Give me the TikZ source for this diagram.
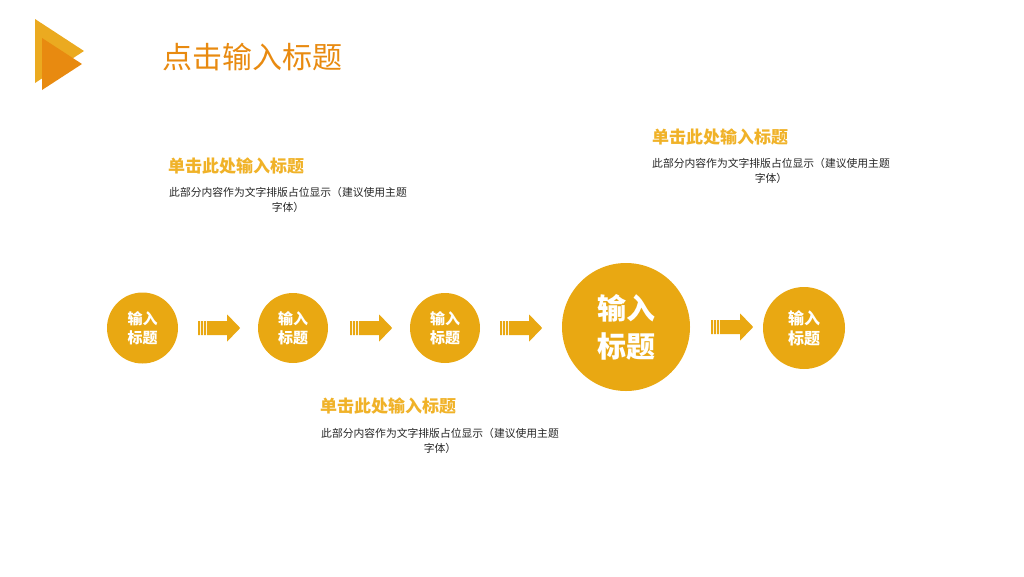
\documentclass[tikz,border=0pt]{standalone}
\usepackage{fontspec}
\setmainfont{Noto Sans CJK SC}
\usepackage{tikz}

\definecolor{gold}{RGB}{233,168,18}
\definecolor{logogold}{RGB}{235,170,32}
\definecolor{deeporange}{RGB}{232,138,16}
\definecolor{headgold}{RGB}{240,178,40}

\tikzset{
  ball/.style={circle,fill=gold,text=white,align=center,inner sep=0pt,minimum size=#1},
  smallfont/.style={font=\fontsize{15}{19}\selectfont\bfseries},
  bigfont/.style={font=\fontsize{29}{38}\selectfont\bfseries},
  heading/.style={anchor=west,inner sep=0pt,text=headgold,font=\fontsize{17}{20}\selectfont\bfseries},
  bodytext/.style={inner sep=0pt,align=center,text=black!85,font=\fontsize{10.8}{15}\selectfont}
}

% striped block arrow, tail at #1
\newcommand{\stripearrow}[1]{%
  \fill[gold] (#1) ++(0,-7) rectangle ++(2,14)
              (#1) ++(3,-7) rectangle ++(2,14)
              (#1) ++(6,-7) rectangle ++(2,14)
              (#1) ++(9,-7) -- ++(20,0) -- ++(0,-6.5) -- ++(13,13.5)
                   -- ++(-13,13.5) -- ++(0,-6.5) -- ++(-20,0) -- cycle;}

\begin{document}
\begin{tikzpicture}[x=1pt,y=-1pt]
\useasboundingbox (0,0) rectangle (1024,576);

    % logo and title
    \fill[logogold] (35,19) -- (84,51) -- (35,83) -- cycle;
    \fill[deeporange] (42,38) -- (82,64) -- (42,90) -- cycle;
    \node[anchor=west,inner sep=0pt,text=deeporange,font=\fontsize{30}{33}\selectfont] (title) at (162,57) {点击输入标题};

\begin{scope}[smallfont]
    \node[ball=71pt] (c1) at (142.5,328) {输入\\标题};
    \node[ball=70pt] (c2) at (293,328) {输入\\标题};
    \node[ball=70pt] (c3) at (445,328) {输入\\标题};
    \node[ball=82pt,font=\fontsize{16}{20}\selectfont\bfseries] (c5) at (804,328) {输入\\标题};
\end{scope}
    \node[ball=128pt,bigfont] (c4) at (626,327) {输入\\标题};

    \path (c1.east) ++(20,0) coordinate (a1);
    \path (c2.east) ++(22,0) coordinate (a2);
    \path (c3.east) ++(20,0) coordinate (a3);
    \path (c4.east) ++(21,0) coordinate (a4);
    \stripearrow{a1}
    \stripearrow{a2}
    \stripearrow{a3}
    \stripearrow{a4}

    % text blocks
    \node[heading] (h1) at (168,166) {单击此处输入标题};
    \node[bodytext] (b1) at (288,199.5) {此部分内容作为文字排版占位显示（建议使用主题\\字体）};

    \node[heading] (h2) at (320,406) {单击此处输入标题};
    \node[bodytext] (b2) at (440,440.5) {此部分内容作为文字排版占位显示（建议使用主题\\字体）};

    \node[heading] (h3) at (652,137) {单击此处输入标题};
    \node[bodytext] (b3) at (771,170.5) {此部分内容作为文字排版占位显示（建议使用主题\\字体）};

\end{tikzpicture}
\end{document}
